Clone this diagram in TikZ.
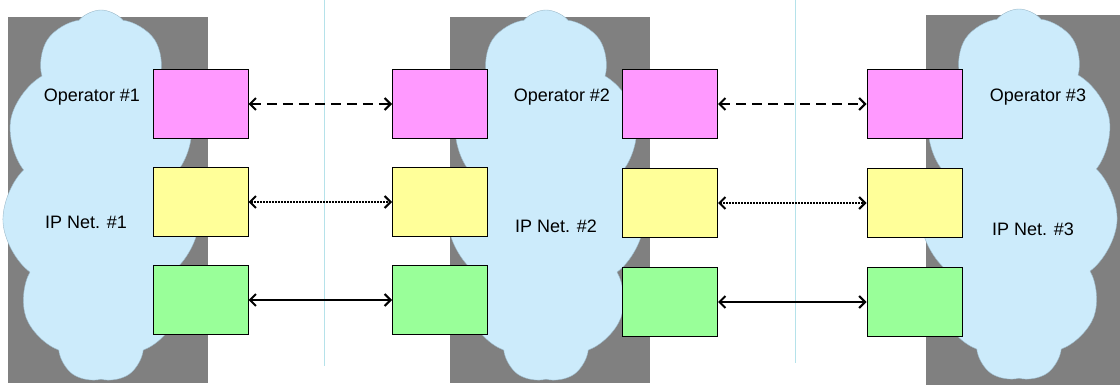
\documentclass[tikz,border=0pt]{standalone}
\usepackage{fontspec}
\setmainfont{Liberation Sans}
\usetikzlibrary{shapes.symbols,arrows.meta,positioning}
\definecolor{netgray}{HTML}{808080}
\definecolor{cloudblue}{HTML}{CCEBFB}
\definecolor{cloudedge}{HTML}{9BB8C8}
\definecolor{oppink}{HTML}{FF99FF}
\definecolor{ipyellow}{HTML}{FFFF99}
\definecolor{lkgreen}{HTML}{99FF99}
\definecolor{sepcyan}{HTML}{B5E2EA}
\begin{document}
\begin{tikzpicture}[x=1pt,y=-1pt,
  font=\fontsize{18}{21}\selectfont,
  netcloud/.style={cloud, cloud puffs=11, cloud puff arc=100, aspect=0.53,
    draw=cloudedge, fill=cloudblue, minimum width=198pt, minimum height=372pt,
    inner sep=0pt},
  unitbox/.style={draw, line width=1pt, minimum width=95pt,
    minimum height=69pt, inner sep=0pt},
  link/.style={line width=2pt,
    {Straight Barb[length=6pt,width=12pt]}-{Straight Barb[length=6pt,width=12pt]}}]
  \useasboundingbox (0,0) rectangle (1120,385);
  % operator domains
  \fill[netgray] (8,17) rectangle (208,383);
  \fill[netgray] (450,17) rectangle (650,383);
  \fill[netgray] (926,15) rectangle (1120,385);
  \node[netcloud] (net1) at (101,196) {};
  \node[netcloud] (net2) at (546,196) {};
  \node[netcloud] (net3) at (1019,195) {};
  % borders
  \draw[sepcyan, line width=1pt] (324,0) -- (324,366);
  \draw[sepcyan, line width=1pt] (795,0) -- (795,363);
  % labels
  \node (oplbl1) at (92,97) {Operator \#1};
  \node (iplbl1) at (86,222) {IP Net. \#1};
  \node (oplbl2) at (562,97) {Operator \#2};
  \node (iplbl2) at (556,226) {IP Net. \#2};
  \node (oplbl3) at (1038,97) {Operator \#3};
  \node (iplbl3) at (1033,229) {IP Net. \#3};
  % gateways
  \foreach \col/\xc/\yc/\gap in {a/200.5/104/28, b/440/104/28,
                                c/670/104/29, d/914.5/104/29} {
    \node[unitbox, fill=oppink] (op\col) at (\xc,\yc) {};
    \node[unitbox, fill=ipyellow, below=\gap pt of op\col] (ip\col) {};
    \node[unitbox, fill=lkgreen, below=\gap pt of ip\col] (ln\col) {};
  }
  % interconnections
  \draw[link, dash pattern=on 10pt off 6pt] (opa) -- (opb);
  \draw[link, dash pattern=on 2pt off 1pt] (ipa) -- (ipb);
  \draw[link] (lna) -- (lnb);
  \draw[link, dash pattern=on 10pt off 6pt] (opc) -- (opd);
  \draw[link, dash pattern=on 2pt off 1pt] (ipc) -- (ipd);
  \draw[link] (lnc) -- (lnd);
\end{tikzpicture}
\end{document}
